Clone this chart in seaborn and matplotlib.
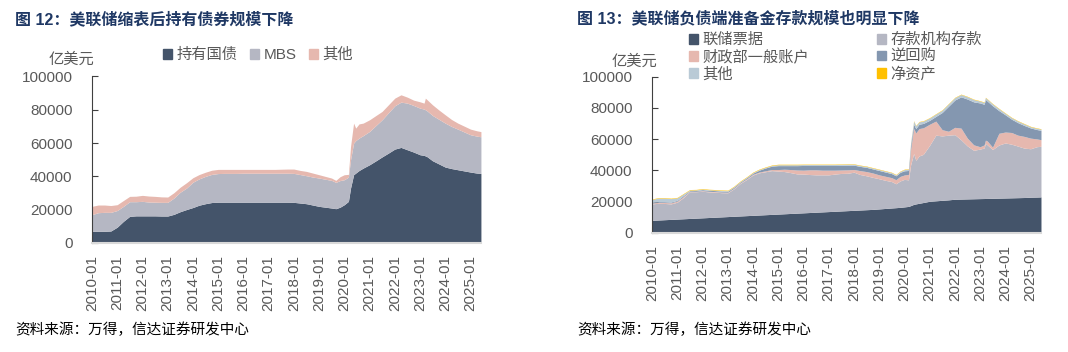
import pandas as pd
import numpy as np
import matplotlib
matplotlib.use("Agg")
import matplotlib.pyplot as plt
import matplotlib.dates as mdates
from matplotlib.patches import Patch
import seaborn as sns

sns.set_theme(style="white")
plt.rcParams['font.family'] = ['Liberation Sans', 'Noto Sans CJK SC', 'DejaVu Sans']
plt.rcParams['axes.unicode_minus'] = False

# dates shared by both panels
dates = ["2010-01", "2010-04", "2010-07", "2010-10",
         "2011-01", "2011-04", "2011-07", "2011-10",
         "2012-01", "2012-04", "2012-07", "2012-10",
         "2013-01", "2013-04", "2013-07", "2013-10",
         "2014-01", "2014-04", "2014-07", "2014-10",
         "2015-01", "2015-04", "2015-07", "2015-10",
         "2016-01", "2016-04", "2016-07", "2016-10",
         "2017-01", "2017-04", "2017-07", "2017-10",
         "2018-01", "2018-04", "2018-07", "2018-10",
         "2019-01", "2019-04", "2019-07", "2019-09", "2019-11",
         "2020-01", "2020-03", "2020-04", "2020-05-15", "2020-06-15", "2020-08", "2020-10",
         "2021-01", "2021-04", "2021-07", "2021-10",
         "2022-01", "2022-04", "2022-07", "2022-10",
         "2023-01", "2023-03", "2023-03-20", "2023-04-15", "2023-07", "2023-10",
         "2024-01", "2024-04", "2024-07", "2024-10",
         "2025-01", "2025-04", "2025-06"]

# 图12 assets (亿美元)
treasury = [7000, 7000, 7000, 7200,
            9500, 13000, 16000, 16300,
            16300, 16300, 16300, 16200,
            16200, 17200, 18800, 20100,
            21300, 22700, 23600, 24300,
            24500, 24500, 24500, 24500,
            24500, 24500, 24500, 24500,
            24500, 24500, 24500, 24500,
            24400, 24000, 23600, 22800,
            22000, 21500, 21000, 20600, 21500,
            23000, 25000, 33000, 41000, 42000, 43500, 45000,
            47000, 49300, 51700, 54000,
            56400, 57400, 56000, 54600,
            53000, 52600, 52300, 51800, 49400, 47500,
            45600, 44700, 44000, 43300,
            42600, 42000, 41800]
mbs = [10000, 11200, 11400, 11200,
       10000, 9000, 8800, 8500,
       8700, 8300, 8200, 8200,
       8200, 9800, 11700, 12900,
       15200, 15800, 16400, 16900,
       17200, 17300, 17300, 17300,
       17400, 17400, 17400, 17400,
       17400, 17400, 17400, 17400,
       17400, 17100, 16800, 16800,
       17000, 16800, 16600, 15800, 16000,
       15000, 14600, 17000, 19000, 19500, 19500, 19500,
       20000, 21200, 22300, 24200,
       26000, 27200, 28000, 28000,
       28000, 27800, 27700, 27500, 27200, 26800,
       26400, 25300, 24400, 23400,
       22400, 22200, 22000]
other_assets = [5000, 4600, 4400, 4100,
                3500, 3500, 3200, 3300,
                3600, 3600, 3500, 3300,
                3200, 3200, 3000, 3200,
                2700, 2600, 2500, 2500,
                2500, 2400, 2400, 2400,
                2300, 2300, 2300, 2300,
                2300, 2300, 2400, 2500,
                2600, 2500, 2600, 2400,
                2000, 1700, 1400, 1200, 2300,
                3000, 1600, 8000, 12000, 7500, 8500, 7500,
                7000, 6000, 5000, 4800,
                4600, 4400, 3600, 3200,
                3800, 3600, 7000, 6700, 6400, 5600,
                5000, 4200, 3600, 3500,
                3400, 3200, 3100]

# 图13 liabilities (亿美元)
notes = [8100, 8300, 8500, 8700,
         8900, 9100, 9300, 9500,
         9700, 9900, 10100, 10300,
         10500, 10700, 10900, 11100,
         11300, 11500, 11700, 11900,
         12100, 12300, 12500, 12700,
         12900, 13100, 13300, 13500,
         13700, 13900, 14100, 14300,
         14500, 14700, 14900, 15100,
         15400, 15700, 16000, 16200, 16400,
         16700, 17000, 17500, 18300, 18600, 19000, 19500,
         20300, 20600, 20900, 21200,
         21600, 21700, 21800, 21900,
         22000, 22050, 22100, 22100, 22200, 22300,
         22400, 22500, 22600, 22700,
         22900, 23000, 23100]
reserves = [10500, 10700, 10400, 9900,
            10800, 13600, 17100, 16900,
            17000, 16400, 16000, 15500,
            15200, 17600, 20800, 23100,
            25800, 27000, 27500, 28000,
            27500, 27000, 26100, 25100,
            24800, 24300, 23900, 23700,
            23500, 23800, 24000, 23900,
            24400, 22700, 21700, 20500,
            19300, 18000, 16900, 15300, 16900,
            17600, 17000, 26000, 32600, 27900, 30300, 30800,
            35800, 42000, 41200, 41400,
            41300, 37900, 33900, 31000,
            31700, 32300, 35300, 34300, 31200, 34000,
            35200, 34300, 33000, 31600,
            31000, 32200, 32400]
tga = [500, 600, 600, 700,
       700, 700, 300, 300,
       400, 400, 400, 400,
       400, 400, 400, 500,
       500, 500, 600, 700,
       1000, 1500, 2000, 2500,
       2500, 3000, 3200, 3000,
       3000, 2500, 2200, 2200,
       1700, 2500, 2700, 2800,
       2500, 2600, 2500, 2600, 2900,
       2800, 3500, 10000, 16000, 17500, 17500, 17000,
       13500, 9000, 4000, 2500,
       4700, 7500, 5000, 3500,
       1500, 2000, 2000, 2500, 1500, 7500,
       7000, 7500, 7000, 7500,
       6800, 5000, 4200]
rrp = [400, 500, 500, 500,
       500, 600, 400, 500,
       600, 600, 600, 600,
       600, 600, 500, 600,
       700, 1200, 1800, 2200,
       2500, 2300, 2500, 2800,
       3000, 2800, 2800, 3000,
       3000, 3000, 3000, 3000,
       2800, 2700, 2700, 2600,
       2800, 2700, 2600, 2500, 2600,
       2700, 2500, 2600, 2700, 2800, 2800, 2800,
       2500, 3000, 11000, 16000,
       17500, 20000, 25000, 27500,
       28000, 26000, 26000, 25500, 26500, 14500,
       11000, 8500, 8000, 7000,
       6500, 6000, 6000]
other_liab = [2000, 2200, 2300, 2200,
              1600, 1000, 400, 400,
              400, 400, 400, 400,
              400, 400, 400, 400,
              400, 400, 400, 400,
              600, 600, 600, 600,
              600, 600, 600, 600,
              600, 600, 600, 600,
              600, 600, 600, 600,
              600, 600, 600, 600, 600,
              800, 800, 1500, 2000, 1800, 1500, 1500,
              1500, 1500, 1500, 1500,
              1500, 1500, 1500, 1500,
              1200, 1200, 1200, 1200, 1200, 1200,
              1000, 1000, 1000, 1000,
              800, 800, 800]
capital = [300] * 24 + [250] * 45

x = pd.to_datetime(dates, format="mixed")

c_navy = "#44546A"
c_grey = "#B5B7C3"
c_pink = "#E6B8AF"
c_blue = "#8497B0"
c_light = "#B9CAD6"
c_gold = "#FFC000"
title_color = "#1F3864"
tick_color = "#595959"

fig = plt.figure(figsize=(10.68, 3.52), dpi=100)
ax1 = fig.add_axes([0.0861, 0.3097, 0.3642, 0.4730])
ax2 = fig.add_axes([0.6105, 0.3381, 0.3642, 0.4440])

ax1.stackplot(x, treasury, mbs, other_assets,
              colors=[c_navy, c_grey, c_pink], linewidth=0)
ax2.stackplot(x, notes, reserves, tga, rrp, other_liab, capital,
              colors=[c_navy, c_grey, c_pink, c_blue, c_light, c_gold], linewidth=0)

for ax in (ax1, ax2):
    ax.set_xlim(pd.Timestamp("2010-01-01"), pd.Timestamp("2025-06-01"))
    ax.set_ylim(0, 100000)
    ax.set_yticks(np.arange(0, 100001, 20000))
    ax.xaxis.set_major_locator(mdates.YearLocator())
    ax.xaxis.set_major_formatter(mdates.DateFormatter("%Y-%m"))
    for s in ("top", "right"):
        ax.spines[s].set_visible(False)
    ax.spines["left"].set_color("#404040")
    ax.spines["left"].set_linewidth(0.8)
    ax.spines["bottom"].set_color("#D9D9D9")
    ax.spines["bottom"].set_linewidth(1.5)
    ax.tick_params(axis="y", direction="in", length=4, width=0.8, color="#404040",
                   pad=14, labelsize=11, labelcolor=tick_color, left=True)
    ax.tick_params(axis="x", direction="in", length=4, width=0.8, color="#BFBFBF",
                   pad=9, labelsize=11, labelcolor=tick_color, rotation=90, bottom=True)
    ax.grid(False)
    ax.set_facecolor("white")

# titles
fig.text(15 / 1068, 1 - 19 / 352, "图 12：美联储缩表后持有债券规模下降", fontsize=11.5,
         fontweight="bold", color=title_color, va="center", ha="left")
fig.text(577 / 1068, 1 - 18 / 352, "图 13：美联储负债端准备金存款规模也明显下降", fontsize=11.5,
         fontweight="bold", color=title_color, va="center", ha="left")

# unit labels
fig.text(94 / 1068, 1 - 60 / 352, "亿美元", fontsize=11, color=tick_color, ha="right", va="center")
fig.text(657 / 1068, 1 - 62 / 352, "亿美元", fontsize=11, color=tick_color, ha="right", va="center")

# legends
h1 = [Patch(color=c_navy), Patch(color=c_grey), Patch(color=c_pink)]
fig.legend(h1, ["持有国债", "MBS", "其他"], loc="center left",
           bbox_to_anchor=(163 / 1068, 1 - 55 / 352), ncol=3, frameon=False,
           fontsize=11, handlelength=0.6, handleheight=0.6, handletextpad=0.3,
           columnspacing=0.8, borderpad=0, borderaxespad=0, labelcolor=tick_color)

h2 = [Patch(color=c_navy), Patch(color=c_pink), Patch(color=c_light),
      Patch(color=c_grey), Patch(color=c_blue), Patch(color=c_gold)]
l2 = ["联储票据", "财政部一般账户", "其他", "存款机构存款", "逆回购", "净资产"]
fig.legend(h2, l2, loc="upper left", bbox_to_anchor=(689 / 1068, 1 - 33 / 352),
           ncol=2, frameon=False, fontsize=11, handlelength=0.6, handleheight=0.6,
           handletextpad=0.3, columnspacing=4.4, labelspacing=0.18, borderpad=0,
           borderaxespad=0, labelcolor=tick_color)

# sources
fig.text(15 / 1068, 1 - 330 / 352, "资料来源：万得，信达证券研发中心", fontsize=10.5,
         style="italic", color="black", va="center", ha="left")
fig.text(577 / 1068, 1 - 330 / 352, "资料来源：万得，信达证券研发中心", fontsize=10.5,
         style="italic", color="black", va="center", ha="left")

fig.savefig("out.png", dpi=100, facecolor="white")
